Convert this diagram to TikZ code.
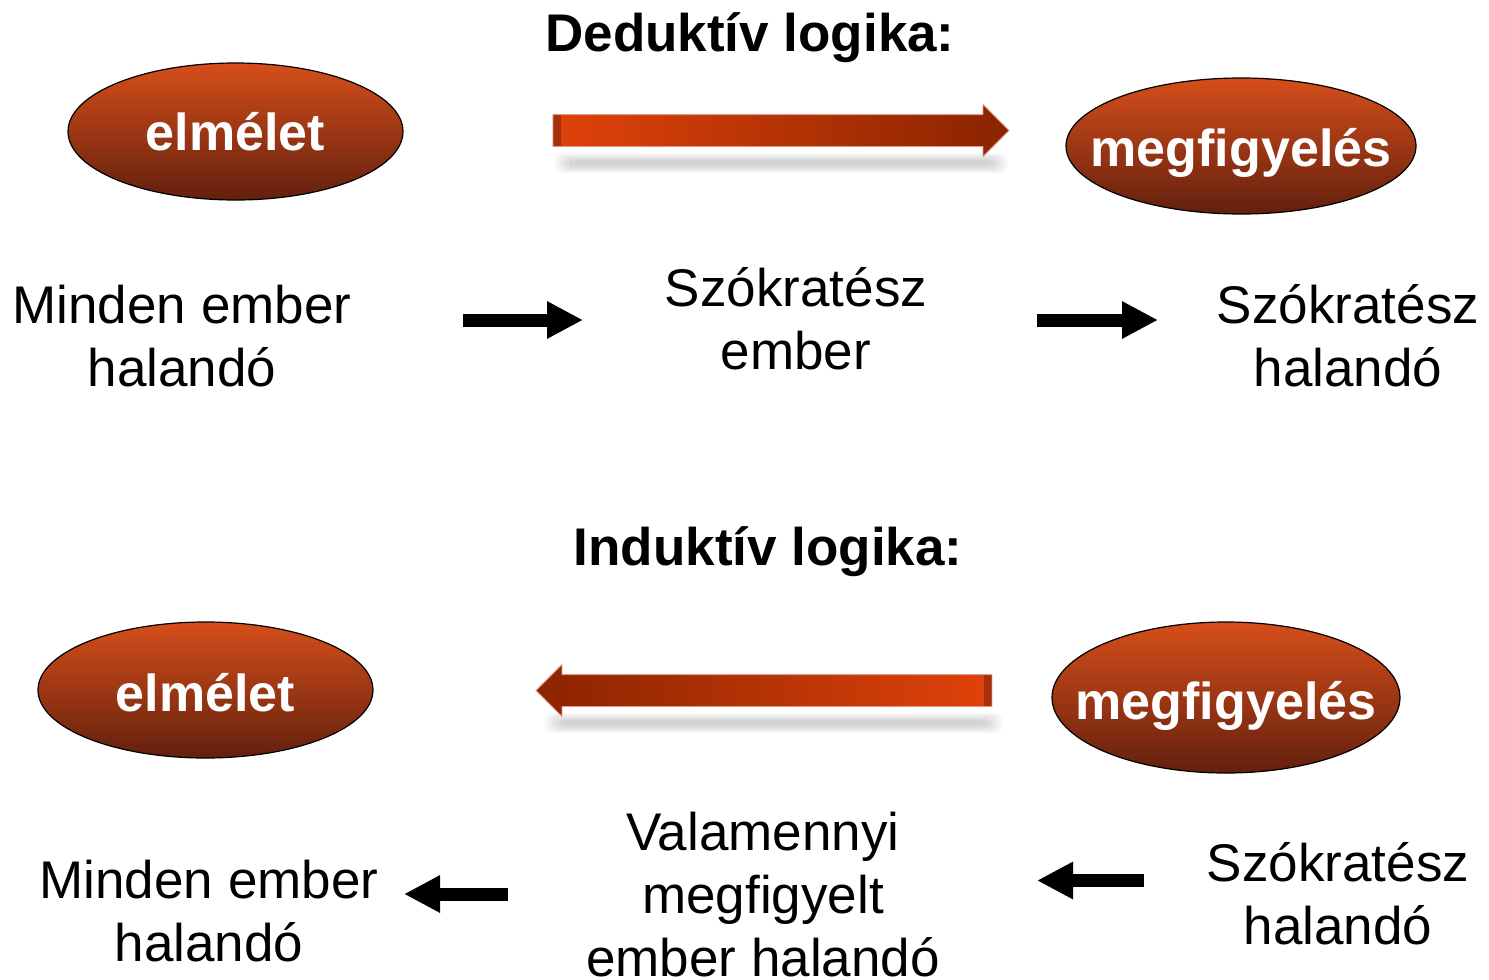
\documentclass[tikz,border=0pt]{standalone}
\usepackage{fontspec}
\setmainfont{Liberation Sans}
\usetikzlibrary{shapes.geometric,shapes.arrows,arrows.meta}

\definecolor{ovaltop}{RGB}{214,78,26}
\definecolor{ovalbot}{RGB}{98,32,14}
\definecolor{arrlight}{RGB}{224,66,10}
\definecolor{arrdark}{RGB}{138,36,0}
\definecolor{arredge}{RGB}{226,150,130}
\definecolor{arrtail}{RGB}{165,48,12}

\tikzset{
  oval/.style={ellipse, draw=black, line width=1.2pt, top color=ovaltop, bottom color=ovalbot, inner sep=0pt},
  ovaltext/.style={text=white, inner sep=0pt, font=\fontsize{52}{60}\selectfont\bfseries},
  plain/.style={align=center, anchor=north, inner sep=0pt, font=\fontsize{53}{63.3}\selectfont},
  heading/.style={anchor=base, inner sep=0pt, font=\fontsize{53}{63}\selectfont\bfseries},
  blkarrow/.style={line width=13pt, -{Triangle[length=36pt,width=35pt]}},
  bigarrow/.style={single arrow, single arrow head extend=10pt, text height=31pt, text depth=0pt,
    inner sep=0pt, minimum height=456pt, draw=arredge, line width=.8pt},
  tailwest/.style={path picture={\fill[arrtail] (path picture bounding box.south west) rectangle ([xshift=8pt]path picture bounding box.north west);}},
  taileast/.style={path picture={\fill[arrtail] ([xshift=-8pt]path picture bounding box.south east) rectangle (path picture bounding box.north east);}}
}

\begin{document}
\begin{tikzpicture}[x=1pt,y=-1pt]
  \useasboundingbox (0,0) rectangle (1489,980);

  % shadows under the big arrows
  \foreach \k in {0,...,5} {
    \fill[black, opacity=.03, rounded corners=8pt] (555+3*\k,153+1.5*\k) rectangle (1008-3*\k,173-1.5*\k);
    \fill[black, opacity=.03, rounded corners=8pt] (545+3*\k,713+1.5*\k) rectangle (1002-3*\k,733-1.5*\k);
  }

  \node[heading] (ded) at (750,51) {Deduktív logika:};
  \node[heading] (ind) at (768,565) {Induktív logika:};

  \begin{scope}[every node/.style={oval}]
    \node[minimum width=335pt, minimum height=137pt] (elm1) at (235.5,131.5) {};
    \node[minimum width=350pt, minimum height=136pt] (meg1) at (1241,146) {};
    \node[minimum width=335pt, minimum height=136pt] (elm2) at (205.5,690) {};
    \node[minimum width=348pt, minimum height=151pt] (meg2) at (1226,697.5) {};
  \end{scope}

  \begin{scope}[every node/.style={ovaltext}]
    \node at (elm1) {elmélet};
    \node at ([yshift=-7pt]meg1) {megfigyelés};
    \node at ([yshift=-3pt]elm2) {elmélet};
    \node at ([yshift=-8pt]meg2) {megfigyelés};
  \end{scope}

  \node[bigarrow, tailwest, left color=arrlight, right color=arrdark] (dedarrow) at (773,130.5) {};
  \node[bigarrow, taileast, shape border rotate=180, left color=arrdark, right color=arrlight] (indarrow) at (772,690.5) {};

  \begin{scope}[every node/.style={plain}]
    \node (mem1)   at (182,285)    {Minden ember\\halandó};
    \node (szemb)  at (796,267)    {Szókratész\\ember};
    \node (szhal1) at (1348,284)   {Szókratész\\halandó};
    \node (mem2)   at (209,860)    {Minden ember\\halandó};
    \node (valam)  at (763,811.5)  {Valamennyi\\megfigyelt\\ember halandó};
    \node (szhal2) at (1338,842)   {Szókratész\\halandó};
  \end{scope}

  \coordinate (d1s) at (463,320);
  \coordinate (d1e) at (583,320);
  \coordinate (d2s) at (1037,320);
  \coordinate (d2e) at (1158,320);
  \coordinate (i1s) at (508,894);
  \coordinate (i1e) at (404,894);
  \coordinate (i2s) at (1144,880.5);
  \coordinate (i2e) at (1037,880.5);

  \draw[blkarrow] (d1s) -- (d1e);
  \draw[blkarrow] (d2s) -- (d2e);
  \draw[blkarrow] (i1s) -- (i1e);
  \draw[blkarrow] (i2s) -- (i2e);

\end{tikzpicture}
\end{document}
